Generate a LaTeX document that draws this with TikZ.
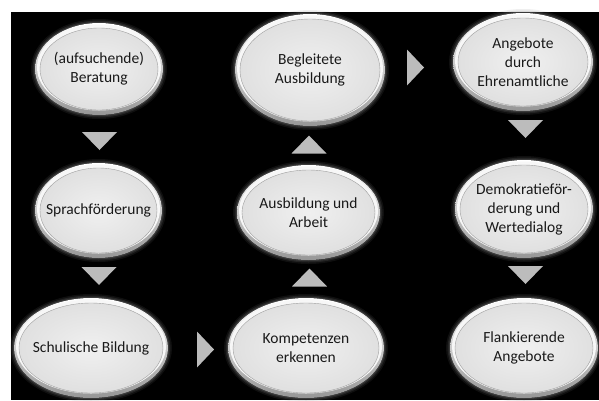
\documentclass[tikz,border=0pt]{standalone}
\usepackage{fontspec}
\setmainfont{Carlito}
\usetikzlibrary{shapes.geometric}
\definecolor{arrowc}{RGB}{188,188,188}
\definecolor{txtc}{RGB}{25,25,25}
\definecolor{innerhi}{RGB}{240,240,240}
\definecolor{innerlo}{RGB}{224,224,224}
\definecolor{rimlo}{RGB}{150,150,150}
\tikzset{
  lbl/.style={ellipse, inner sep=0pt, align=center, text=txtc,
    font=\fontsize{15.5}{19}\selectfont},
  tri/.style={fill=arrowc},
}
% #1 name, #2 x, #3 y, #4 rx, #5 ry, #6 text
\newcommand\bubble[6]{%
  \foreach \g/\o in {4/0.12,2.5/0.18,1.2/0.25}{
    \fill[gray, opacity=\o] (#2,#3) ellipse [x radius=#4+\g, y radius=#5+\g];
  }
  \fill[top color=white, bottom color=rimlo] (#2,#3) ellipse [x radius=#4, y radius=#5];
  \fill[white!97!black] (#2,#3-1.5) ellipse [x radius=#4-2, y radius=#5-3];
  \shade[inner color=innerhi, outer color=innerlo] (#2,#3) ellipse [x radius=#4-5, y radius=#5-5];
  \draw[gray!75, line width=0.4pt] (#2,#3) ellipse [x radius=#4-5, y radius=#5-5];
  \node[lbl, minimum width=2*#4, minimum height=2*#5] (#1) at (#2,#3) {#6};
}
\newcommand\tridown[2]{\fill[tri] (#1-17.5,#2-9) -- (#1+17.5,#2-9) -- (#1,#2+9) -- cycle;}
\newcommand\triup[2]{\fill[tri] (#1-17.5,#2+9) -- (#1+17.5,#2+9) -- (#1,#2-9) -- cycle;}
\newcommand\triright[2]{\fill[tri] (#1-8.5,#2-18) -- (#1-8.5,#2+18) -- (#1+8.5,#2) -- cycle;}
\begin{document}
\begin{tikzpicture}[x=1pt,y=-1pt]
\useasboundingbox (0,0) rectangle (599,400);
\fill[white] (0,0) rectangle (599,400);
\fill[black] (11,12) rectangle (599,400);

\bubble{beratung}{99}{69}{64}{46}{(aufsuchende)\\Beratung}
\bubble{sprache}{98.5}{210.5}{63.5}{47.5}{Sprachförderung}
\bubble{schule}{91}{348}{77}{50}{Schulische Bildung}
\bubble{kompetenz}{306}{348}{78}{50}{Kompetenzen\\erkennen}
\bubble{arbeit}{308.5}{212.5}{71.5}{47.5}{Ausbildung und\\Arbeit}
\bubble{begleitet}{310}{70}{75}{56}{Begleitete\\Ausbildung}
\bubble{ehrenamt}{523}{62}{70}{49}{Angebote\\durch\\Ehrenamtliche}
\bubble{demokratie}{524}{209}{69}{49}{Demokratieför-\\derung und\\Wertedialog}
\bubble{flankierend}{524}{348}{74}{50}{Flankierende\\Angebote}

\tridown{99.5}{141}
\tridown{99}{276}
\triright{205.5}{349.5}
\triup{309.5}{277.5}
\triup{309}{144.5}
\triright{415.5}{67.5}
\tridown{525.5}{129}
\tridown{525.5}{275}
\end{tikzpicture}
\end{document}
